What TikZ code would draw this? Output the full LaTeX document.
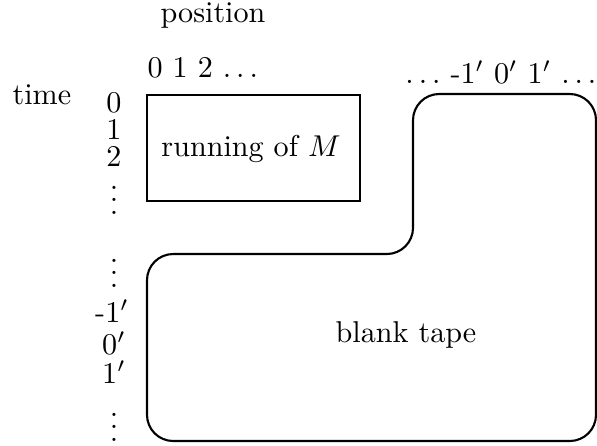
\documentclass[tikz,border=0pt]{standalone}
\newcommand\myvdots{\vbox{\baselineskip4pt\lineskiplimit0pt\hbox{.}\hbox{.}\hbox{.}}}
\begin{document}
\begin{tikzpicture}[x=0.332pt,y=-0.332pt,
  lbl/.style={inner sep=0pt,font=\fontsize{10}{12}\selectfont},
  boxline/.style={line width=0.8pt},
  tapeline/.style={line width=0.7pt,rounded corners=8.7pt}]
\useasboundingbox (0,0) rectangle (597,445);
\node[lbl,anchor=base] (pos) at (213,22) {position};
\node[lbl,anchor=base west] (cols) at (147,77) {0 1 2 $\ldots$};
\node[lbl,anchor=base west] (time) at (12,104) {time};
\node[lbl,anchor=base] (r0) at (114,112) {0};
\node[lbl,anchor=base] (r1) at (114,139) {1};
\node[lbl,anchor=base] (r2) at (114,166) {2};
\node[lbl,anchor=base] (rv1) at (114,214) {\myvdots};
\node[lbl,anchor=base] (rv2) at (114,287) {\myvdots};
\node[lbl,anchor=base] (rm1) at (112,322) {-1$'$};
\node[lbl,anchor=base] (r0p) at (114,354) {0$'$};
\node[lbl,anchor=base] (r1p) at (114,383) {1$'$};
\node[lbl,anchor=base] (rv3) at (114,441) {\myvdots};
\node[lbl,anchor=base east] (cols2) at (597,83) {$\ldots$ -1$'$ 0$'$ 1$'$ $\ldots$};
\draw[boxline] (147,95) rectangle (360,201);
\node[lbl,anchor=base] (run) at (251,156) {running of $M$};
\draw[tapeline] (147,254) -- (413,254) -- (413,94) -- (596,94) -- (596,441) -- (147,441) -- cycle;
\node[lbl,anchor=base] (blank) at (406,342) {blank tape};
\end{tikzpicture}
\end{document}
